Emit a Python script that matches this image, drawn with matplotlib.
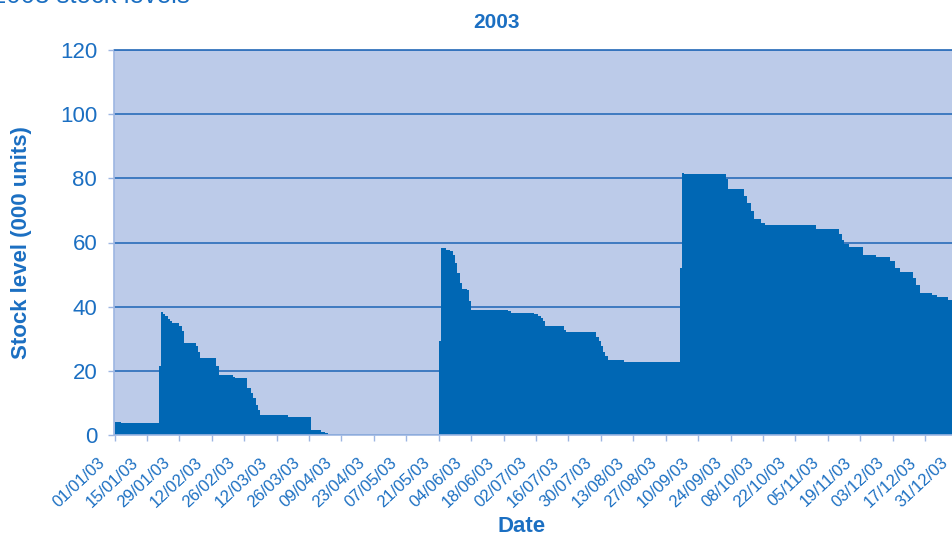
import matplotlib
matplotlib.use("Agg")
import matplotlib.pyplot as plt
import matplotlib.dates as mdates
import matplotlib.transforms as mtransforms
import numpy as np

# Stock level steps: date the level changed and the new level (000 units)
change_dates = [
    "2003-01-01", "2003-01-04", "2003-01-14", "2003-01-20", "2003-01-21",
    "2003-01-22", "2003-01-23", "2003-01-24", "2003-01-25", "2003-01-26",
    "2003-01-29", "2003-01-30", "2003-01-31", "2003-02-05", "2003-02-06",
    "2003-02-07", "2003-02-14", "2003-02-15", "2003-02-21", "2003-02-22",
    "2003-02-27", "2003-03-01", "2003-03-02", "2003-03-03", "2003-03-04",
    "2003-03-05", "2003-03-17", "2003-03-27", "2003-03-31", "2003-04-02",
    "2003-04-03",
    "2003-05-21", "2003-05-22", "2003-05-24", "2003-05-26", "2003-05-27",
    "2003-05-28", "2003-05-29", "2003-05-30", "2003-05-31", "2003-06-02",
    "2003-06-03", "2003-06-04", "2003-06-20", "2003-06-21", "2003-07-01",
    "2003-07-03", "2003-07-04", "2003-07-05", "2003-07-06", "2003-07-14",
    "2003-07-15", "2003-07-28", "2003-07-29", "2003-07-30", "2003-07-31",
    "2003-08-01", "2003-08-02", "2003-08-09",
    "2003-09-02", "2003-09-03", "2003-09-04", "2003-09-22", "2003-09-23",
    "2003-09-30", "2003-10-01", "2003-10-03", "2003-10-04", "2003-10-07",
    "2003-10-09", "2003-10-31", "2003-11-10", "2003-11-11", "2003-11-12",
    "2003-11-14", "2003-11-20", "2003-11-26", "2003-12-02", "2003-12-04",
    "2003-12-06", "2003-12-12", "2003-12-13", "2003-12-15", "2003-12-20",
    "2003-12-22", "2003-12-27",
]
stock_levels = [
    4.2, 3.85, 3.6, 21.6, 38.3,
    37.8, 37.0, 36.2, 35.4, 34.9,
    33.9, 32.3, 28.6, 27.6, 26.0,
    24.0, 21.6, 18.75, 18.2, 17.7,
    14.6, 13.0, 11.5, 9.4, 7.8,
    6.25, 5.5, 1.6, 1.0, 0.5,
    0.0,
    29.2, 58.3, 57.8, 57.3, 56.25,
    53.6, 50.5, 47.4, 45.5, 45.3,
    41.7, 39.1, 38.75, 38.0, 37.7,
    37.2, 36.5, 35.4, 34.0, 32.8,
    32.0, 30.7, 29.2, 27.6, 26.0,
    24.5, 23.4, 22.7,
    52.1, 81.8, 81.25, 79.7, 76.6,
    74.5, 72.4, 69.8, 67.2, 66.2,
    65.3, 64.1, 62.5, 60.9, 59.4,
    58.6, 56.25, 55.5, 54.2, 52.1,
    50.8, 49.0, 46.9, 44.3, 43.5,
    43.0, 42.2,
]
period_end = "2004-01-01"

tick_labels = [
    "01/01/03", "15/01/03", "29/01/03", "12/02/03", "26/02/03", "12/03/03",
    "26/03/03", "09/04/03", "23/04/03", "07/05/03", "21/05/03", "04/06/03",
    "18/06/03", "02/07/03", "16/07/03", "30/07/03", "13/08/03", "27/08/03",
    "10/09/03", "24/09/03", "08/10/03", "22/10/03", "05/11/03", "19/11/03",
    "03/12/03", "17/12/03", "31/12/03",
]
y_ticks = [0, 20, 40, 60, 80, 100, 120]

TEXT = "#1b6fc2"
FILL = "#0067b4"
PLOT_BG = "#bccbe9"
GRID = "#3474bd"
FRAME = "#9db6e2"

plt.rcParams["font.family"] = ["Liberation Sans", "DejaVu Sans"]

fig = plt.figure(figsize=(9.53, 5.39), dpi=100)
W, H = 953, 539
x0, x1 = 114.5, 959.8
ytop, ybot = 50, 435
ax = fig.add_axes([x0 / W, 1 - ybot / H, (x1 - x0) / W, (ybot - ytop) / H])
ax.set_facecolor(PLOT_BG)

xs = np.array(change_dates + [period_end], dtype="datetime64[D]")
ys = np.array(stock_levels + [stock_levels[-1]])
ax.fill_between(xs, ys, 0, step="post", color=FILL, linewidth=0, zorder=2)

ax.set_xlim(np.datetime64("2003-01-01"), np.datetime64(period_end))
ax.set_ylim(0, 120)

tick_pos = [np.datetime64("20%s-%s-%s" % (t[6:8], t[3:5], t[0:2])) for t in tick_labels]
ax.set_xticks(mdates.date2num(tick_pos))
ax.set_xticklabels(tick_labels)
ax.set_yticks(y_ticks)
ax.set_yticklabels([str(v) for v in y_ticks])

ax.yaxis.grid(True, color=GRID, linewidth=1.3)
ax.set_axisbelow(True)

for side in ("left", "bottom", "right"):
    ax.spines[side].set_color(FRAME)
    ax.spines[side].set_linewidth(1.2)
ax.spines["top"].set_color(GRID)
ax.spines["top"].set_linewidth(1.3)

ax.tick_params(axis="y", colors=FRAME, labelcolor=TEXT, labelsize=16,
               length=4.5, width=1.0, pad=8)
ax.tick_params(axis="x", colors=FRAME, labelcolor=TEXT, labelsize=12,
               length=4, width=1.0, pad=10.5)

shift = mtransforms.ScaledTranslation(-16.5 / 100, 0, fig.dpi_scale_trans)
for lbl in ax.get_xticklabels():
    lbl.set_rotation(43)
    lbl.set_ha("right")
    lbl.set_va("top")
    lbl.set_rotation_mode("anchor")
    lbl.set_transform(lbl.get_transform() + shift)

fig.text(22 / W, 1 - 243 / H, "Stock level (000 units)", rotation=90,
         ha="center", va="center", fontsize=16, fontweight="bold", color=TEXT)
fig.text(522 / W, 1 - 527 / H, "Date", ha="center", va="center",
         fontsize=16, fontweight="bold", color=TEXT)
fig.text(497 / W, 1 - 22 / H, "2003", ha="center", va="center",
         fontsize=15, fontweight="bold", color=TEXT)
fig.text(190 / W, 1 - 3 / H, "2003 stock levels", ha="right", va="baseline",
         fontsize=18.5, color=TEXT)

fig.savefig("out.png", dpi=100)
